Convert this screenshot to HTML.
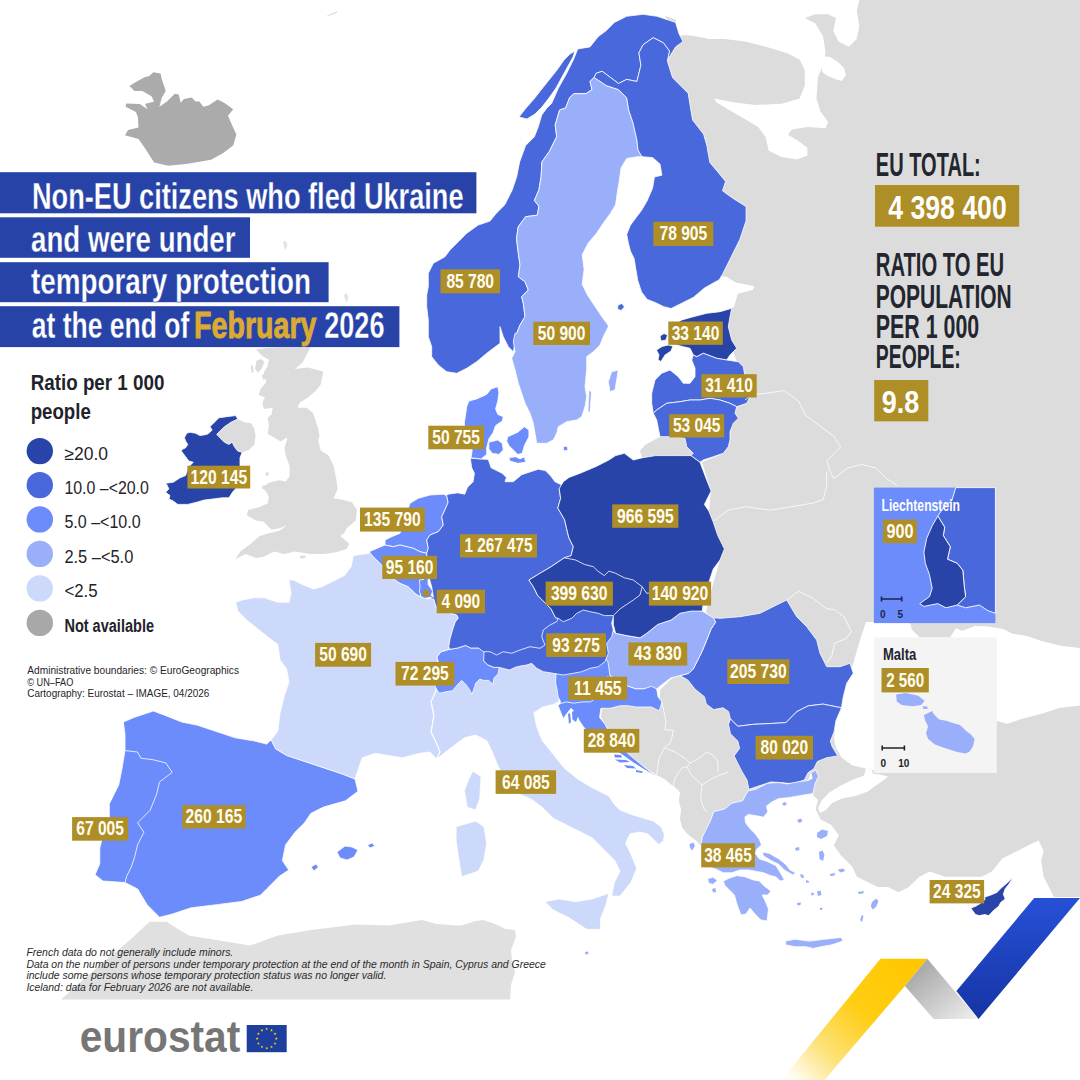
<!DOCTYPE html>
<html lang="en">
<head>
<meta charset="utf-8">
<title>Non-EU citizens who fled Ukraine and were under temporary protection at the end of February 2026</title>
<style>
html,body{margin:0;padding:0;background:#fff;}
body{width:1080px;height:1080px;overflow:hidden;}
svg{display:block;font-family:"Liberation Sans",Arial,sans-serif;}
.lb{font-weight:bold;font-size:20px;fill:#fffdf2;}
.tt{font-weight:bold;font-size:37.5px;fill:#fff;stroke:#2743a7;stroke-width:0.3px;}
.rp{font-weight:bold;font-size:32.5px;fill:#23262f;}
.lg{font-size:18px;fill:#1f232b;}
.fn{font-style:italic;font-size:11px;fill:#2a2a2a;}
.at{font-size:10.5px;fill:#1f232b;}
</style>
</head>
<body>
<svg width="1080" height="1080" viewBox="0 0 1080 1080">
<defs>
<linearGradient id="gY" gradientUnits="userSpaceOnUse" x1="915" y1="965" x2="800" y2="1085">
<stop offset="0" stop-color="#ffc700"/><stop offset="0.42" stop-color="#ffcd12"/><stop offset="0.75" stop-color="#fde27a"/><stop offset="1" stop-color="#fffdf5"/>
</linearGradient>
<linearGradient id="gG" x1="0" y1="0" x2="1" y2="1">
<stop offset="0" stop-color="#9a9a9a"/><stop offset="1" stop-color="#f0f0f0"/>
</linearGradient>
<linearGradient id="gB" x1="0" y1="0" x2="0" y2="1">
<stop offset="0" stop-color="#2650d6"/><stop offset="1" stop-color="#1634a4"/>
</linearGradient>
</defs>
<rect width="1080" height="1080" fill="#fff"/>
<g id="map">
<polygon points="664.0,0.0 1080.0,0.0 1080.0,897.0 1054.0,897.0 1048.9,887.0 1043.7,876.7 1041.1,861.1 1043.7,850.7 1038.5,840.4 1028.1,845.6 1017.8,850.7 1002.2,858.5 991.9,871.5 981.5,876.7 960.7,876.7 945.2,876.7 929.6,871.5 919.3,876.7 908.9,887.0 898.5,892.2 888.1,887.0 877.8,887.0 867.4,881.9 857.0,876.7 851.9,866.3 841.5,855.9 833.7,845.6 838.9,835.2 831.1,824.8 820.7,819.6 815.6,809.3 818.0,800.0 812.9,795.0 815.0,783.9 818.5,776.2 815.7,770.0 810.8,772.8 808.1,780.4 798.3,781.8 787.2,783.9 778.9,782.5 767.8,783.2 755.3,789.4 748.3,790.8 745.6,795.0 742.8,800.6 731.7,803.3 724.7,808.9 713.6,811.7 710.8,820.0 706.7,828.3 702.5,836.7 701.1,843.6 700.0,845.6 696.7,841.1 692.2,837.8 686.7,833.3 682.2,827.8 680.0,818.9 681.1,810.0 678.9,801.1 680.0,792.2 675.6,787.8 671.1,784.4 664.4,778.9 655.6,774.4 645.0,767.5 636.0,761.0 628.0,754.5 620.0,746.0 612.0,737.0 606.0,727.0 601.0,717.0 602.0,709.0 620.0,706.0 650.0,705.0 660.0,700.0 660.0,690.0 670.0,680.0 690.0,665.0 705.0,640.0 712.0,622.0 706.0,612.0 711.0,591.0 720.0,560.0 724.0,549.0 717.0,535.0 709.0,511.0 711.0,491.0 702.0,462.0 720.0,455.0 728.0,444.0 732.0,425.0 736.0,408.0 745.0,400.0 744.0,375.0 736.0,360.0 733.0,350.0 730.0,340.0 727.0,326.7 731.7,308.3 734.1,306.7 737.8,293.7 752.6,290.0 754.4,286.3 735.9,282.6 726.7,277.0 721.0,276.0 730.4,258.5 739.8,239.6 746.1,220.7 746.1,206.6 733.5,198.7 722.5,190.8 725.6,181.4 717.8,171.9 709.9,162.5 706.8,145.2 703.6,134.2 692.6,120.0 690.7,108.9 688.2,93.3 672.6,77.8 667.4,61.1 669.4,57.0 675.6,46.9 681.7,40.7 676.0,36.0 672.0,25.0 664.0,15.0" fill="#dcdcdc"/>
<polygon points="640.0,0.0 859.3,0.0 856.7,10.4 859.3,25.9 856.7,38.9 848.9,46.7 838.5,41.5 833.3,31.1 835.9,18.1 828.2,14.3 815.2,14.3 804.8,18.1 815.2,23.3 823.0,36.3 825.6,51.9 823.0,64.8 817.8,77.8 816.5,98.5 820.4,111.5 828.2,121.9 825.6,128.3 807.4,127.0 791.9,129.6 788.0,134.8 797.0,140.0 807.4,147.8 807.4,155.6 797.0,159.5 781.5,156.9 768.5,150.4 765.9,137.4 758.2,127.0 745.2,119.3 729.6,110.2 716.7,102.4 714.1,98.5 734.8,102.4 755.6,105.0 781.5,103.7 799.6,98.5 804.8,85.6 804.8,70.0 799.6,59.6 786.7,53.1 765.9,46.7 745.2,41.5 724.5,38.9 708.9,38.9 695.9,36.3 685.6,35.0 678.0,36.0 676.0,28.0 676.0,20.0 660.0,14.0" fill="#fff"/>
<polygon points="846.7,683.3 853.3,663.3 860.0,640.0 866.0,622.0 910.0,623.0 912.0,630.0 920.0,637.5 950.0,637.5 956.0,628.0 962.0,631.0 975.0,626.0 988.5,626.5 1003.0,628.9 1012.6,633.7 1027.0,636.1 1041.5,640.9 1051.1,643.3 1060.7,645.7 1080.0,648.1 1080.0,705.6 1059.3,708.1 1043.7,713.3 1023.0,718.5 1007.4,723.7 997.0,721.1 980.0,726.0 960.0,735.0 940.0,745.0 920.0,755.0 900.0,762.0 875.2,770.4 862.2,767.8 851.9,765.2 841.5,757.4 836.0,748.0 834.0,738.0 836.0,722.0 841.0,705.0" fill="#fff"/>
<polygon points="866.0,768.0 872.0,770.0 873.0,774.0 880.0,774.5 888.0,776.5 884.0,780.0 875.0,786.0 868.0,791.5 855.0,796.0 842.0,798.5 832.0,803.0 826.0,810.0 820.0,813.0 818.0,808.0 822.0,800.0 830.0,792.0 840.0,786.0 852.0,780.0 864.0,775.5" fill="#fff"/>
<polygon points="822.0,56.0 830.0,57.0 838.0,62.0 844.0,68.0 846.0,75.0 842.0,81.0 835.0,79.0 828.0,76.0 822.0,72.0" fill="#fff"/>
<polygon points="61.0,999.4 100.0,965.0 130.0,940.0 146.0,925.0 150.0,921.7 166.7,921.7 178.0,929.0 188.9,935.6 222.2,941.1 250.0,945.6 277.8,935.6 311.1,930.0 355.6,924.4 388.9,925.6 422.2,920.0 436.7,923.9 453.3,925.3 461.1,925.6 475.6,921.1 483.3,920.0 495.0,924.0 505.6,928.9 515.0,930.0 516.0,937.0 511.0,950.0 512.0,962.0 515.0,972.0 511.0,985.0 510.0,999.4" fill="#e0e0e0"/>
<polygon points="255.9,349.4 266.3,348.1 279.3,347.5 310.4,347.5 302.6,362.4 294.8,368.9 307.8,367.6 323.3,371.5 320.7,384.4 315.6,390.9 307.8,397.4 300.0,402.6 297.4,407.8 306.5,407.8 313.0,413.0 315.6,420.7 318.2,428.5 319.5,436.0 318.2,440.0 320.7,450.4 328.5,455.6 333.7,465.9 336.3,478.9 337.6,489.3 333.7,498.3 341.5,499.6 351.9,502.2 357.0,510.0 355.7,520.4 346.7,528.2 344.1,533.3 340.2,535.9 349.3,543.7 346.7,548.9 333.7,552.8 323.3,554.1 310.4,554.1 302.6,552.8 294.8,551.5 284.4,554.1 274.1,551.5 263.7,556.7 255.9,558.0 245.6,554.1 235.2,559.3 240.4,551.5 250.7,543.7 259.8,535.9 268.9,533.3 279.3,530.7 287.0,525.6 279.3,528.2 271.5,529.4 263.7,521.7 255.9,520.4 246.9,515.2 248.1,510.0 258.5,507.4 267.6,503.5 268.9,497.0 266.3,491.9 262.4,488.0 268.9,482.8 279.3,480.2 285.7,481.5 289.6,476.3 289.6,465.9 285.7,455.6 284.4,447.8 287.0,440.0 287.0,437.6 280.6,441.5 274.1,437.6 267.6,433.7 268.9,425.9 267.6,418.2 271.5,414.3 272.8,407.8 263.7,409.1 262.4,402.6 265.0,397.4 258.5,394.8 261.1,388.3 266.3,381.9 263.7,372.8 267.6,366.3 268.9,359.8 262.4,355.9" fill="#dcdcdc"/>
<polygon points="216.7,434.4 220.0,431.1 224.4,426.7 231.1,422.2 237.8,418.9 244.4,422.2 251.1,423.3 254.4,428.9 255.6,435.6 254.4,444.4 248.9,450.0 242.2,452.2 237.8,451.1 234.4,446.7 232.2,442.2 228.9,444.4 224.4,442.2 220.0,437.8" fill="#dcdcdc"/>
<polygon points="283.0,242.0 285.5,240.5 287.5,245.0 285.5,250.0 284.0,247.0" fill="#e4e4e4"/>
<polygon points="344.0,295.0 346.5,293.0 348.5,297.0 347.0,302.5 345.0,299.5" fill="#e4e4e4"/>
<polygon points="327.0,15.5 332.0,13.3 336.5,11.3 338.0,12.5 333.0,14.6 327.5,16.5" fill="#e4e4e4"/>
<polygon points="256.6,360.5 261.0,359.0 264.4,362.0 262.0,368.0 258.0,372.8 255.0,369.0" fill="#dcdcdc"/>
<polygon points="251.0,366.0 253.0,365.0 253.5,372.0 251.5,373.0" fill="#dcdcdc"/>
<polygon points="262.0,375.0 266.0,373.0 267.0,378.0 263.0,380.0" fill="#dcdcdc"/>
<polygon points="262.0,392.0 266.0,391.0 266.5,394.0 262.5,395.0" fill="#dcdcdc"/>
<polygon points="263.0,402.0 266.0,401.0 266.5,405.0 263.5,406.0" fill="#dcdcdc"/>
<polygon points="265.6,473.0 268.0,471.5 269.0,475.0 266.0,476.0" fill="#dcdcdc"/>
<polygon points="262.0,486.0 266.0,485.0 266.0,488.5 262.5,489.0" fill="#dcdcdc"/>
<polygon points="300.0,556.0 306.0,555.5 305.0,558.0 300.5,558.5" fill="#dcdcdc"/>
<polygon points="129.4,85.9 135.9,82.0 145.0,76.9 148.9,76.2 153.4,72.3 160.6,73.6 161.9,79.4 165.7,91.1 161.9,97.6 159.3,106.7 167.0,101.5 174.8,93.7 178.7,94.4 180.7,102.8 183.9,98.9 191.7,97.6 195.6,101.5 199.4,101.5 203.3,106.7 208.5,105.4 217.6,99.5 224.1,102.8 233.2,109.3 228.0,115.7 231.9,124.8 236.4,134.5 233.2,145.6 222.8,153.3 211.1,159.8 187.8,163.7 168.3,165.7 154.1,162.4 145.0,148.2 138.5,139.1 124.9,135.2 128.1,130.0 138.5,127.4 137.9,117.0 135.9,111.9 125.6,106.7 126.2,103.4 139.8,104.1 147.6,109.3 145.0,104.1 154.1,101.5 151.5,96.3 142.4,91.1 134.6,91.1" fill="#ababab"/>
<polygon points="645.0,445.0 660.0,436.7 673.3,436.7 685.0,438.3 686.7,446.7 693.3,453.3 700.0,462.2 691.1,455.6 673.3,455.6 655.6,455.6 642.2,457.8 640.0,451.0" fill="#dcdcdc"/>
<polygon points="368.9,553.3 353.3,555.6 351.1,566.7 344.4,575.6 331.1,582.2 322.2,586.7 313.3,588.9 302.2,584.4 293.3,580.0 288.9,580.0 291.1,593.3 288.9,602.2 277.8,602.2 264.4,597.8 253.3,597.8 242.2,600.0 235.6,602.2 237.8,611.1 246.7,620.0 257.8,628.9 268.9,637.8 277.8,644.4 280.0,660.0 286.7,668.9 288.9,682.2 284.4,695.6 280.0,713.3 277.8,731.1 271.1,740.0 275.6,748.9 286.7,755.6 300.0,760.0 313.3,764.4 326.7,768.9 340.0,773.3 355.0,779.0 358.0,770.0 362.2,757.8 375.6,753.3 388.9,755.6 402.2,757.8 420.0,753.3 430.0,752.0 436.7,759.0 440.0,752.0 436.7,743.3 431.1,732.2 433.9,715.6 431.1,701.7 436.7,690.0 440.0,686.0 437.0,657.0 440.9,651.9 450.0,649.3 448.7,646.7 450.0,638.9 452.6,629.8 455.2,622.0 458.3,618.0 456.7,615.0 446.7,611.7 436.7,608.3 435.0,603.3 433.3,596.7 428.0,599.0 420.0,596.7 415.0,593.3 408.3,586.7 400.0,583.3 395.0,580.0 386.7,570.0 380.0,563.3 373.3,556.7 369.2,551.7" fill="#cdd9fb" stroke="#fff" stroke-width="0.8" stroke-linejoin="round"/>
<polygon points="472.8,771.1 481.1,776.7 479.7,798.9 475.6,810.0 467.2,807.2 464.4,790.6 468.6,779.4" fill="#cdd9fb" stroke="#fff" stroke-width="0.8" stroke-linejoin="round"/>
<polygon points="436.7,759.0 453.3,746.1 464.4,737.8 475.6,735.0 486.7,740.6 492.2,751.7 497.8,765.6 503.3,776.7 517.2,793.3 531.1,798.9 542.2,807.2 553.3,818.3 570.0,826.7 581.1,832.2 592.2,837.8 603.3,848.9 614.4,860.0 620.0,871.1 614.4,882.2 611.7,896.1 620.0,896.1 631.1,882.2 636.7,868.3 631.1,854.4 625.6,843.3 630.0,834.0 640.0,832.0 648.0,834.0 654.0,840.0 658.9,844.4 663.3,841.1 664.4,834.4 661.1,826.7 653.3,821.1 642.2,817.8 631.1,814.4 620.0,810.0 614.4,804.4 608.9,796.1 592.2,787.8 578.3,779.4 564.4,768.3 553.3,754.4 542.2,740.6 536.7,726.7 533.9,712.8 542.2,707.2 553.3,704.4 558.9,701.7 560.0,690.0 557.0,670.0 540.0,662.0 520.0,664.0 500.0,666.0 480.0,675.0 460.0,680.0 440.0,686.0 436.7,690.0 431.1,701.7 433.9,715.6 431.1,732.2 436.7,743.3 440.0,752.0" fill="#cdd9fb" stroke="#fff" stroke-width="0.8" stroke-linejoin="round"/>
<polygon points="456.1,826.7 475.6,821.1 483.9,826.7 486.7,843.3 483.9,860.0 478.3,871.1 461.7,876.7 458.9,860.0 456.1,840.6" fill="#cdd9fb" stroke="#fff" stroke-width="0.8" stroke-linejoin="round"/>
<polygon points="545.0,901.7 558.9,898.9 575.6,901.7 592.2,898.9 608.9,893.3 606.1,904.4 600.6,918.3 600.6,929.4 586.7,929.4 570.0,918.3 553.3,910.0" fill="#cdd9fb" stroke="#fff" stroke-width="0.8" stroke-linejoin="round"/>
<polygon points="123.4,722.0 134.5,717.3 153.4,711.0 165.9,715.7 181.7,722.0 197.4,725.2 216.3,731.5 235.2,737.8 254.1,740.9 266.7,744.1 271.1,740.0 275.6,748.9 286.7,755.6 300.0,760.0 313.3,764.4 326.7,768.9 340.0,773.3 355.0,779.0 358.0,791.3 345.4,800.8 323.4,807.1 310.8,813.4 304.5,822.8 295.0,832.2 285.6,844.8 282.4,860.6 288.7,870.0 279.3,876.3 266.7,888.9 260.4,895.2 241.5,901.5 216.3,904.7 191.1,907.8 172.2,914.1 159.6,917.3 147.1,904.7 137.6,888.9 125.0,882.6 103.0,881.0 95.1,874.7 99.8,863.7 99.8,848.0 103.0,835.4 109.3,819.6 109.3,803.9 118.7,785.0 121.9,769.3 125.0,750.4 125.0,734.6" fill="#6b8cfa" stroke="#fff" stroke-width="0.8" stroke-linejoin="round"/>
<polygon points="337.0,852.0 345.0,846.0 352.0,847.0 358.0,850.0 354.0,857.0 347.0,860.0 340.0,858.0" fill="#6b8cfa" stroke="#fff" stroke-width="0.8" stroke-linejoin="round"/>
<polygon points="367.5,845.0 372.0,843.0 375.0,846.0 370.0,848.0" fill="#6b8cfa" stroke="#fff" stroke-width="0.8" stroke-linejoin="round"/>
<polygon points="311.0,867.0 316.0,864.0 318.5,867.0 314.0,871.0" fill="#6b8cfa" stroke="#fff" stroke-width="0.8" stroke-linejoin="round"/>
<polygon points="713.3,617.8 720.0,618.3 740.0,616.7 760.0,613.3 780.0,603.3 786.7,600.0 796.7,616.7 806.7,626.7 816.7,640.0 820.0,653.3 826.7,666.7 840.0,666.7 850.0,663.3 853.3,673.3 846.7,683.3 843.3,696.7 841.5,707.8 823.0,704.1 808.1,705.9 797.0,711.5 785.9,722.6 771.1,723.5 752.6,724.4 737.8,726.3 730.4,718.9 728.5,711.5 723.0,707.8 713.7,709.6 706.3,704.1 704.4,696.7 695.2,689.3 687.8,680.0 680.0,675.6 688.9,673.3 693.3,668.9 697.8,660.0 702.2,651.1 706.7,640.0 711.1,628.9 715.6,622.2" fill="#4868dc" stroke="#fff" stroke-width="0.8" stroke-linejoin="round"/>
<polygon points="615.6,633.3 626.7,635.6 640.0,637.8 646.7,633.3 657.8,624.4 671.1,620.0 680.0,613.3 688.9,608.9 702.2,611.1 713.3,617.8 715.6,622.2 711.1,628.9 706.7,640.0 702.2,651.1 697.8,660.0 693.3,668.9 688.9,673.3 680.0,675.6 671.1,677.8 662.2,684.4 656.7,688.9 643.7,688.9 635.9,688.9 628.1,686.3 617.8,679.8 610.0,675.9 604.0,668.0 602.0,656.0 602.0,645.0 605.0,635.0 610.0,628.0" fill="#9aaffa" stroke="#fff" stroke-width="0.8" stroke-linejoin="round"/>
<polygon points="555.6,682.4 556.0,674.0 565.0,669.0 578.9,667.0 591.9,664.0 600.9,660.0 605.0,657.0 608.0,662.0 610.0,675.9 617.8,679.8 628.1,686.3 635.9,688.9 643.7,688.9 651.5,686.3 656.7,688.9 658.0,696.7 661.9,701.9 659.3,710.9 651.5,707.0 643.7,707.0 635.9,707.0 628.1,705.7 620.4,705.7 610.0,708.3 600.9,708.3 599.6,717.4 604.8,723.9 607.4,729.1 612.0,735.0 618.0,742.0 624.3,750.0 628.1,753.7 635.9,760.2 643.7,766.7 654.1,774.5 655.6,776.0 643.7,769.3 633.3,762.8 624.3,756.3 612.0,748.0 600.0,740.0 590.0,733.0 584.1,727.8 578.9,720.0 576.3,713.5 571.1,708.3 565.9,714.8 563.3,718.7 560.7,712.2 558.1,705.7 560.7,701.9 558.1,696.7 556.9,688.9" fill="#6b8cfa" stroke="#fff" stroke-width="0.8" stroke-linejoin="round"/>
<polygon points="450.0,649.3 457.8,648.0 465.6,645.4 470.7,648.0 478.5,648.0 483.7,650.6 486.3,654.4 483.7,660.9 487.6,664.8 494.1,667.4 499.3,667.4 498.0,673.9 494.1,677.8 492.8,684.3 488.9,680.4 483.7,680.4 479.8,679.1 475.9,683.0 473.3,690.7 472.0,694.6 469.4,689.4 465.6,684.3 461.7,680.4 457.8,684.3 452.6,690.7 444.8,692.0 439.6,693.3 435.7,688.2 434.4,683.0 438.3,672.6 438.3,662.2 437.0,657.0 440.9,651.9" fill="#6b8cfa" stroke="#fff" stroke-width="0.8" stroke-linejoin="round"/>
<polygon points="484.0,651.0 494.0,649.0 499.3,648.0 507.0,649.0 514.8,648.0 520.0,646.0 530.0,643.0 540.0,644.0 542.0,641.0 538.5,636.7 540.0,629.0 547.0,622.0 554.0,618.0 558.0,614.0 563.3,615.0 571.7,612.0 576.7,608.0 583.3,606.0 590.0,607.0 598.3,609.0 606.7,609.0 615.0,611.0 611.7,623.3 613.3,630.0 611.7,636.7 606.7,643.3 608.3,653.3 605.0,661.7 598.3,666.7 590.0,668.3 581.7,671.7 573.3,673.3 563.3,675.0 553.3,673.3 543.3,671.7 536.7,668.3 531.7,663.3 526.7,665.0 520.0,666.1 514.8,667.4 509.6,670.0 504.4,668.7 499.3,667.4 494.1,667.4 487.6,664.8 483.7,660.9" fill="#4868dc" stroke="#fff" stroke-width="0.8" stroke-linejoin="round"/>
<polygon points="410.0,503.3 418.3,498.3 430.0,495.0 443.3,494.2 446.7,495.6 448.1,502.5 443.9,512.2 441.7,516.7 443.3,525.0 438.3,531.7 430.0,535.0 426.7,540.0 428.3,548.3 426.7,553.3 420.0,551.7 413.3,548.3 406.7,546.7 400.0,545.0 393.3,546.7 385.0,545.0 385.0,540.0 391.7,536.7 400.0,533.3 403.3,525.0 406.7,513.3" fill="#6b8cfa" stroke="#fff" stroke-width="0.8" stroke-linejoin="round"/>
<polygon points="385.0,545.0 393.3,546.7 400.0,545.0 406.7,546.7 413.3,548.3 420.0,551.7 426.7,553.3 428.3,568.3 428.3,575.0 423.3,580.0 421.7,586.7 420.0,596.7 415.0,593.3 408.3,586.7 400.0,583.3 395.0,580.0 386.7,570.0 380.0,563.3 373.3,556.7 369.2,551.7" fill="#6b8cfa" stroke="#fff" stroke-width="0.8" stroke-linejoin="round"/>
<polygon points="419.4,580.0 423.3,579.5 428.3,575.0 428.0,584.4 432.8,591.1 431.1,595.6 428.9,597.8 424.4,598.3 421.1,596.7 419.4,591.1 420.0,586.7" fill="#6b8cfa" stroke="#fff" stroke-width="0.8" stroke-linejoin="round"/>
<polygon points="446.7,495.6 448.1,494.2 457.8,492.8 464.7,494.2 467.5,487.2 473.1,481.7 474.4,473.3 471.7,467.8 470.3,458.1 481.0,459.0 488.3,459.4 491.1,467.8 502.2,473.3 506.4,477.5 505.0,481.7 513.3,481.7 521.7,474.7 530.0,471.9 538.3,469.2 545.3,470.6 550.8,476.1 555.0,481.7 560.6,484.4 563.3,487.2 559.2,488.6 560.6,498.3 557.8,508.1 561.9,515.0 564.7,520.0 566.7,528.9 568.9,537.8 573.3,546.7 571.1,555.6 564.4,557.8 551.1,566.7 540.0,573.3 528.9,580.0 533.3,586.7 537.8,595.6 544.4,602.2 551.1,608.9 555.6,617.8 558.3,618.3 556.7,621.7 550.0,625.0 543.3,630.0 541.7,636.7 545.0,645.0 540.0,648.3 530.0,646.7 520.0,650.0 511.7,653.3 503.3,651.7 496.7,655.0 490.0,651.7 483.3,651.7 478.5,648.0 470.7,648.0 465.6,645.4 457.8,648.0 450.0,649.3 448.7,646.7 450.0,638.9 452.6,629.8 455.2,622.0 458.3,618.0 456.7,615.0 446.7,611.7 436.7,608.3 435.0,603.3 433.3,596.7 431.7,586.7 428.3,575.0 428.3,568.3 426.7,553.3 428.3,548.3 426.7,540.0 430.0,535.0 438.3,531.7 443.3,525.0 441.7,516.7 443.9,512.2 448.1,502.5" fill="#4868dc" stroke="#fff" stroke-width="0.8" stroke-linejoin="round"/>
<polygon points="563.3,481.7 568.9,477.5 580.0,473.3 595.6,466.7 608.9,460.0 615.6,455.6 624.4,453.3 633.3,460.0 642.2,457.8 655.6,455.6 673.3,455.6 691.1,455.6 700.0,462.2 706.7,480.0 711.1,491.1 704.4,504.4 708.9,511.1 713.3,522.2 717.8,535.6 724.4,548.9 720.0,560.0 713.3,568.9 708.9,582.2 711.1,591.1 704.4,595.6 702.2,611.1 691.1,611.1 680.0,613.3 671.1,620.0 657.8,624.4 646.7,633.3 640.0,637.8 626.7,635.6 615.6,633.3 613.3,624.4 613.3,615.6 604.4,615.6 598.3,613.3 590.0,611.7 583.3,610.0 576.7,613.3 571.7,618.3 563.3,621.7 558.3,618.3 555.6,617.8 551.1,608.9 544.4,602.2 537.8,595.6 533.3,586.7 528.9,580.0 540.0,573.3 551.1,566.7 564.4,557.8 571.1,555.6 573.3,546.7 568.9,537.8 566.7,528.9 564.7,520.0 561.9,515.0 557.8,508.1 560.6,498.3 559.2,488.6" fill="#2844a9" stroke="#fff" stroke-width="0.8" stroke-linejoin="round"/>
<polygon points="730.4,718.9 737.8,726.3 752.6,724.4 771.1,723.5 785.9,722.6 797.0,711.5 808.1,705.9 823.0,704.1 841.5,707.8 835.9,720.7 834.1,731.9 830.4,741.1 832.2,746.7 837.8,755.9 826.7,757.8 817.4,761.5 813.7,768.9 808.1,772.6 804.4,780.0 793.3,783.7 782.2,782.8 771.1,781.9 760.0,785.6 748.9,789.3 747.0,780.0 741.5,770.7 737.8,763.3 734.1,755.9 739.6,748.5 737.8,741.1 730.4,733.7 728.5,724.4" fill="#4868dc" stroke="#fff" stroke-width="0.8" stroke-linejoin="round"/>
<polygon points="748.3,790.8 755.3,789.4 767.8,783.2 778.9,782.5 787.2,783.9 798.3,781.8 808.1,780.4 812.2,778.3 810.8,772.8 815.7,770.0 818.5,776.2 815.0,783.9 812.9,793.6 803.9,795.0 795.6,796.4 787.2,797.8 778.9,798.5 771.9,801.9 766.4,806.1 767.8,811.7 763.6,817.2 756.7,815.8 748.3,814.4 744.9,817.2 745.6,822.8 749.7,828.3 755.3,833.9 759.4,839.4 761.5,845.0 756.7,849.2 755.3,853.3 759.4,858.9 767.8,861.7 776.1,865.8 780.3,872.8 784.4,879.7 780.3,881.1 776.1,876.9 770.6,875.6 763.6,872.8 756.7,871.4 748.3,870.0 740.0,870.0 731.7,872.8 723.3,872.8 717.8,870.0 710.8,867.2 706.7,861.7 703.9,856.1 702.5,847.8 701.1,843.6 702.5,836.7 706.7,828.3 710.8,820.0 713.6,811.7 724.7,808.9 731.7,803.3 742.8,800.6 745.6,795.0" fill="#9aaffa" stroke="#fff" stroke-width="0.8" stroke-linejoin="round"/>
<polygon points="762.2,851.9 769.2,853.3 778.9,858.9 785.8,864.4 790.0,870.0 795.6,872.8 792.8,874.9 784.4,870.0 778.9,864.4 770.6,860.3 763.6,856.1" fill="#9aaffa" stroke="#fff" stroke-width="0.8" stroke-linejoin="round"/>
<polygon points="723.3,881.1 728.9,878.3 737.2,875.6 745.6,876.9 752.5,879.7 759.4,881.1 765.0,886.7 771.0,891.0 767.8,895.0 762.2,895.0 765.0,900.6 768.5,909.0 767.0,921.0 761.0,920.0 755.0,914.0 750.0,908.0 746.0,914.0 741.0,915.0 737.2,905.0 734.4,895.0 728.9,889.4 724.7,885.3" fill="#9aaffa" stroke="#fff" stroke-width="0.8" stroke-linejoin="round"/>
<polygon points="785.6,941.1 794.8,939.3 809.6,941.1 824.4,939.3 841.1,937.4 843.0,941.1 831.9,944.8 820.7,946.7 813.3,948.5 805.9,946.7 794.8,946.7 785.6,944.8" fill="#9aaffa" stroke="#fff" stroke-width="0.8" stroke-linejoin="round"/>
<polygon points="970.9,908.1 975.6,906.3 980.2,903.5 984.8,899.8 984.8,897.0 990.4,895.2 996.9,892.4 1001.5,887.8 1007.0,883.1 1013.1,877.6 1008.9,884.1 1005.2,888.7 1003.3,894.3 1005.2,898.9 1000.6,902.6 998.7,906.3 994.1,910.0 990.4,913.7 988.5,915.6 984.8,914.6 979.3,915.6 975.6,914.6 972.8,910.9" fill="#2844a9" stroke="#fff" stroke-width="0.8" stroke-linejoin="round"/>
<polygon points="675.6,22.4 657.2,16.3 643.0,14.3 626.7,16.3 614.4,22.4 606.3,30.6 598.1,36.7 590.0,46.9 577.8,48.9 573.3,60.0 566.7,73.3 558.3,88.3 551.7,103.3 546.7,108.3 541.7,115.0 538.3,126.7 534.4,136.7 525.6,145.6 519.6,161.9 516.7,176.7 512.2,190.0 504.8,204.8 495.9,213.7 490.0,221.1 478.3,225.0 466.7,233.3 458.3,241.7 450.0,250.0 445.0,256.7 433.3,263.3 428.3,273.3 428.3,286.7 426.7,295.0 426.7,306.7 428.3,320.0 428.3,336.7 431.7,346.7 431.7,356.7 438.3,365.0 446.7,371.7 456.7,373.3 466.7,368.3 476.7,361.7 486.7,353.3 493.3,348.3 500.0,343.3 500.0,326.7 503.3,336.7 508.3,346.7 513.3,351.7 515.0,343.3 516.7,333.3 520.0,325.0 525.0,316.7 523.3,303.3 521.7,296.7 528.3,290.0 525.0,281.7 518.3,276.7 520.0,265.0 518.3,253.3 516.7,240.0 516.7,237.4 518.1,227.0 525.6,216.7 537.4,215.2 538.9,206.3 534.4,200.4 538.9,190.0 541.1,176.7 541.9,161.9 549.3,151.5 556.7,136.7 555.2,124.8 559.6,110.0 565.6,108.0 569.6,97.8 573.7,93.7 585.9,93.7 592.0,89.6 590.0,81.5 594.1,77.4 596.1,73.3 602.2,71.3 610.4,77.4 618.5,83.5 626.7,79.4 636.9,81.5 640.9,65.2 638.9,53.0 643.0,44.8 653.2,37.7 663.3,42.8 669.4,50.9 667.4,61.1 669.4,57.0 675.6,46.9 683.0,41.5 679.0,33.7" fill="#4868dc" stroke="#fff" stroke-width="0.8" stroke-linejoin="round"/>
<polygon points="519.0,117.0 526.0,108.0 534.0,99.0 541.0,90.0 549.0,80.0 557.0,70.0 564.0,60.0 570.0,54.0 575.0,51.0 573.0,57.0 568.0,66.0 562.0,77.0 556.0,88.0 549.0,98.0 542.0,107.0 535.0,114.0 527.0,119.0" fill="#4868dc" stroke="#fff" stroke-width="0.8" stroke-linejoin="round"/>
<polygon points="594.1,77.4 606.3,85.6 618.5,89.6 626.7,97.8 628.7,110.0 632.8,122.2 636.9,140.0 638.0,150.0 642.0,156.7 637.8,156.7 626.7,158.5 621.1,167.8 619.3,180.7 617.4,191.9 615.6,204.8 610.0,214.1 604.4,221.5 597.0,232.6 587.8,243.7 582.2,254.8 584.1,269.6 582.2,284.4 587.8,295.6 595.2,306.7 602.6,317.8 608.1,325.2 608.3,326.7 603.3,336.7 600.0,345.0 593.3,351.7 586.7,356.7 586.7,370.0 585.0,386.7 586.7,396.7 585.0,406.7 581.7,416.7 576.7,420.0 566.7,421.7 558.3,426.7 556.7,433.3 553.3,440.0 546.7,443.3 536.7,443.3 535.0,433.3 533.3,423.3 530.0,413.3 525.0,403.3 521.7,393.3 518.3,383.3 515.0,370.0 511.7,358.3 515.0,351.7 513.3,341.7 515.0,333.3 516.7,333.3 520.0,325.0 525.0,316.7 523.3,303.3 521.7,296.7 528.3,290.0 525.0,281.7 518.3,276.7 520.0,265.0 518.3,253.3 516.7,240.0 516.7,237.4 518.1,227.0 525.6,216.7 537.4,215.2 538.9,206.3 534.4,200.4 538.9,190.0 541.1,176.7 541.9,161.9 549.3,151.5 556.7,136.7 555.2,124.8 559.6,110.0 565.6,108.0 569.6,97.8 573.7,93.7 585.9,93.7 592.0,89.6 590.0,81.5" fill="#9aaffa" stroke="#fff" stroke-width="0.8" stroke-linejoin="round"/>
<polygon points="611.7,371.7 618.3,370.0 615.0,390.0 610.0,391.7 608.3,381.7" fill="#9aaffa" stroke="#fff" stroke-width="0.8" stroke-linejoin="round"/>
<polygon points="589.0,390.0 591.5,392.0 590.0,413.0 588.0,411.0" fill="#9aaffa" stroke="#fff" stroke-width="0.8" stroke-linejoin="round"/>
<polygon points="594.1,77.4 596.1,73.3 602.2,71.3 610.4,77.4 618.5,83.5 626.7,79.4 636.9,81.5 640.9,65.2 638.9,53.0 643.0,44.8 653.2,37.7 663.3,42.8 669.4,50.9 667.4,61.1 672.6,77.8 688.2,93.3 690.7,108.9 692.6,120.0 703.6,134.2 706.8,145.2 709.9,162.5 717.8,171.9 725.6,181.4 722.5,190.8 733.5,198.7 746.1,206.6 746.1,220.7 739.8,239.6 730.4,258.5 722.5,274.3 719.0,280.0 717.4,280.7 704.4,288.1 693.3,297.4 682.2,303.0 671.1,308.5 663.7,306.7 656.3,303.0 647.0,299.3 641.5,291.9 637.8,280.7 635.9,269.6 634.1,258.5 630.4,251.1 628.5,243.7 626.7,234.4 630.4,225.2 635.9,217.8 641.5,210.4 647.0,201.1 652.6,188.1 654.4,177.0 661.9,175.2 660.0,164.1 652.6,157.6 642.0,156.7 638.0,150.0 636.9,140.0 632.8,122.2 628.7,110.0 626.7,97.8 618.5,89.6 606.3,85.6" fill="#4868dc" stroke="#fff" stroke-width="0.8" stroke-linejoin="round"/>
<polygon points="618.0,305.0 622.0,303.5 624.5,307.0 621.0,310.5 617.5,309.0" fill="#4868dc" stroke="#fff" stroke-width="0.8" stroke-linejoin="round"/>
<polygon points="497.8,386.7 491.1,388.9 486.7,394.4 476.7,398.9 468.9,401.1 466.7,406.7 465.6,414.4 464.4,422.2 464.4,432.2 468.9,441.1 472.2,450.0 471.1,457.8 481.1,458.9 486.7,454.4 486.7,447.8 488.9,438.9 493.3,432.2 495.6,425.6 502.2,421.1 503.3,416.7 497.8,414.4 495.6,408.9 497.8,401.1 498.9,392.2" fill="#6b8cfa" stroke="#fff" stroke-width="0.8" stroke-linejoin="round"/>
<polygon points="488.9,442.2 497.8,440.0 502.2,443.3 503.3,450.0 498.9,454.4 492.2,453.3 488.9,448.9" fill="#6b8cfa" stroke="#fff" stroke-width="0.8" stroke-linejoin="round"/>
<polygon points="507.8,436.7 517.8,432.2 524.4,426.7 528.9,430.0 528.9,436.7 524.4,445.6 522.2,453.3 517.8,454.4 513.3,450.0 508.9,445.6 506.7,441.1" fill="#6b8cfa" stroke="#fff" stroke-width="0.8" stroke-linejoin="round"/>
<polygon points="508.9,457.8 515.6,456.7 520.0,458.9 524.4,456.7 525.6,462.2 517.8,463.3 510.0,461.1" fill="#6b8cfa" stroke="#fff" stroke-width="0.8" stroke-linejoin="round"/>
<polygon points="563.0,447.0 567.0,446.0 568.0,450.0 564.0,451.0" fill="#6b8cfa" stroke="#fff" stroke-width="0.8" stroke-linejoin="round"/>
<polygon points="681.7,320.0 693.3,316.7 706.7,313.3 720.0,311.7 731.7,308.3 730.0,316.7 728.3,326.7 731.7,340.0 736.7,348.3 730.0,355.0 726.7,360.0 716.7,358.3 703.3,353.3 696.7,356.7 693.3,355.0 690.0,348.3 683.3,346.7 676.7,345.0 671.7,340.0 668.3,333.3 673.3,325.0" fill="#2844a9" stroke="#fff" stroke-width="0.8" stroke-linejoin="round"/>
<polygon points="656.5,350.0 662.0,346.5 668.0,345.0 673.0,346.0 671.0,351.0 665.0,355.0 661.0,361.5 658.0,360.0 659.0,355.0" fill="#2844a9" stroke="#fff" stroke-width="0.8" stroke-linejoin="round"/>
<polygon points="660.0,336.0 664.0,333.5 667.5,335.0 666.0,340.0 661.0,341.0" fill="#2844a9" stroke="#fff" stroke-width="0.8" stroke-linejoin="round"/>
<polygon points="726.7,360.0 738.3,361.7 743.3,366.7 745.0,376.7 746.7,386.7 750.0,396.7 746.7,403.3 736.7,406.7 730.0,403.3 720.0,400.0 710.0,398.3 700.0,400.0 690.0,400.0 680.0,401.7 666.7,403.3 656.7,410.0 653.3,413.3 651.7,403.3 651.7,393.3 655.0,380.0 661.7,373.3 670.0,370.0 678.3,376.7 683.3,383.3 690.0,383.3 695.0,376.7 695.0,368.3 691.7,360.0 693.3,355.0 696.7,356.7 703.3,353.3 716.7,358.3" fill="#4868dc" stroke="#fff" stroke-width="0.8" stroke-linejoin="round"/>
<polygon points="736.7,406.7 735.0,413.3 738.3,418.3 733.3,423.3 730.0,431.7 730.0,440.0 728.3,446.7 723.3,453.3 713.3,456.7 703.3,460.0 700.0,462.2 691.1,455.6 693.3,453.3 686.7,446.7 685.0,438.3 673.3,436.7 660.0,436.7 658.3,428.3 656.7,420.0 653.3,413.3 656.7,410.0 666.7,403.3 680.0,401.7 690.0,400.0 700.0,400.0 710.0,398.3 720.0,400.0 730.0,403.3" fill="#4868dc" stroke="#fff" stroke-width="0.8" stroke-linejoin="round"/>
<polygon points="210.0,426.7 218.9,417.8 226.7,416.7 235.6,415.6 237.8,418.9 231.1,422.2 224.4,426.7 220.0,431.1 216.7,434.4 220.0,437.8 224.4,442.2 228.9,444.4 232.2,442.2 234.4,446.7 237.8,451.1 242.2,452.2 240.0,457.8 240.0,464.4 240.0,477.8 235.6,488.9 233.3,491.1 228.9,497.8 222.2,497.8 213.3,498.9 204.4,500.0 196.7,502.2 187.8,504.4 177.8,504.4 173.3,501.1 168.9,498.9 170.0,495.6 165.6,492.2 168.9,488.9 166.7,484.4 165.6,483.3 173.3,482.2 180.0,477.8 185.6,475.6 186.7,472.2 188.9,466.7 193.3,462.2 188.9,461.1 185.6,456.7 182.2,452.2 181.1,450.0 185.6,447.8 187.8,444.4 185.6,441.1 184.4,437.8 186.7,433.3 190.0,432.2 195.6,433.3 200.0,435.6 206.7,434.4 208.9,433.3 212.2,430.0" fill="#2844a9" stroke="#fff" stroke-width="0.8" stroke-linejoin="round"/>
<polygon points="572.0,712.0 576.0,709.5 578.5,715.0 576.0,722.0 572.5,719.5" fill="#6b8cfa"/>
<polygon points="568.0,714.0 570.0,713.0 571.0,722.0 569.0,724.0" fill="#6b8cfa"/>
<polygon points="581.0,719.0 585.0,721.0 588.0,725.0 585.0,725.5 581.0,722.0" fill="#6b8cfa"/>
<polygon points="614.0,754.5 621.0,755.0 622.0,757.5 615.0,757.5" fill="#6b8cfa"/>
<polygon points="615.0,759.5 626.0,760.0 630.0,762.0 620.0,762.5" fill="#6b8cfa"/>
<polygon points="624.0,765.0 633.0,766.0 636.0,768.5 627.0,768.0" fill="#6b8cfa"/>
<polygon points="636.0,770.0 643.0,771.5 642.0,773.0 636.0,772.0" fill="#6b8cfa"/>
<polygon points="817.0,833.0 822.0,829.5 828.0,831.0 827.0,836.0 821.0,839.0 817.0,837.0" fill="#9aaffa"/>
<polygon points="819.0,852.0 822.5,850.5 824.5,855.0 823.0,861.0 819.5,859.0" fill="#9aaffa"/>
<polygon points="838.0,869.5 843.0,868.5 845.5,871.0 840.0,872.5" fill="#9aaffa"/>
<polygon points="872.0,902.0 876.0,898.5 878.5,901.0 876.0,907.0 872.5,909.5 870.8,906.0" fill="#9aaffa"/>
<polygon points="797.0,820.0 801.0,818.5 802.5,821.5 799.0,823.0" fill="#9aaffa"/>
<polygon points="782.0,803.5 785.0,802.0 787.0,804.0 784.0,806.0" fill="#9aaffa"/>
<polygon points="708.0,879.0 713.0,877.5 717.0,880.5 713.0,884.0 709.0,883.0" fill="#9aaffa"/>
<polygon points="712.0,889.0 715.5,888.0 716.0,892.0 713.0,892.5" fill="#9aaffa"/>
<polygon points="689.5,844.0 693.5,842.5 695.0,846.0 692.0,850.5 690.0,848.0" fill="#9aaffa"/>
<polygon points="817.0,891.5 820.5,890.5 821.5,895.0 818.0,896.0" fill="#9aaffa"/>
<polygon points="800.0,874.0 803.5,875.0 804.0,878.0 801.0,877.5" fill="#9aaffa"/>
<polygon points="811.0,893.0 813.5,892.5 814.0,895.0 811.5,895.5" fill="#9aaffa"/>
<polygon points="806.0,880.0 809.0,881.0 808.5,883.0 806.0,882.5" fill="#9aaffa"/>
<polygon points="797.0,903.0 801.0,902.5 800.5,905.0 797.5,905.5" fill="#9aaffa"/>
<polygon points="820.0,908.0 822.5,907.5 822.0,910.0 820.0,910.0" fill="#9aaffa"/>
<polygon points="858.0,892.0 864.0,891.0 863.0,893.5 858.5,894.0" fill="#9aaffa"/>
<polygon points="860.0,920.0 862.0,915.0 863.5,916.0 862.0,922.0" fill="#9aaffa"/>
<polygon points="585.0,952.0 588.0,951.5 588.5,954.0 585.5,954.5" fill="#9aaffa"/>
<polygon points="830.0,874.0 835.0,873.0 834.5,875.5 830.0,876.0" fill="#9aaffa"/>
<polygon points="795.0,848.0 799.0,847.0 799.5,850.0 796.0,851.0" fill="#9aaffa"/>
<g><polyline points="436.7,687.8 431.1,701.7 433.9,715.6 431.1,732.2 436.7,743.3 440.0,752.0 436.7,759.0" fill="none" stroke="#fff" stroke-width="0.8" stroke-linejoin="round" stroke-opacity="1"/><polyline points="123.4,750.4 137.6,752.0 140.8,758.2 153.4,759.8 165.9,763.0 172.2,772.4 159.6,781.9 156.5,794.5 150.2,810.2 140.8,819.6 137.6,822.8 143.9,832.2 137.6,844.8 134.5,857.4 131.3,866.9 126.6,876.3 125.0,882.6" fill="none" stroke="#fff" stroke-width="0.8" stroke-linejoin="round" stroke-opacity="1"/><polyline points="564.4,557.8 575.6,560.0 584.4,564.4 593.3,566.7 597.8,571.1 604.4,575.6 608.9,571.1 615.6,573.3 624.4,577.8 633.3,580.0 642.2,586.7 646.7,593.3 660.0,592.0 680.0,588.0 700.0,590.0 711.1,591.1" fill="none" stroke="#fff" stroke-width="0.8" stroke-linejoin="round" stroke-opacity="1"/><polyline points="642.2,586.7 640.0,595.0 633.3,600.0 620.0,608.9 613.3,615.6" fill="none" stroke="#fff" stroke-width="0.8" stroke-linejoin="round" stroke-opacity="1"/><polyline points="558.1,704.4 566.0,701.9 573.7,703.2 582.8,701.9 590.6,701.9 600.0,695.0 605.0,685.0 608.0,676.0" fill="none" stroke="#fff" stroke-width="0.8" stroke-linejoin="round" stroke-opacity="1"/><polyline points="759.8,394.1 784.4,390.6 798.5,401.1 805.6,415.2 819.6,425.7 833.7,436.3 840.7,446.9 833.7,453.9 826.7,460.9 830.2,471.5 833.7,478.5 847.8,468.0 861.9,464.4 875.9,468.0 886.5,478.5 897.0,485.6" fill="none" stroke="#fff" stroke-width="0.8" stroke-linejoin="round" stroke-opacity="1"/><polyline points="714.1,520.7 728.1,510.2 745.7,506.7 770.4,510.2 791.5,506.7 812.6,503.2 823.2,499.6 826.7,485.6 826.7,471.5" fill="none" stroke="#fff" stroke-width="0.8" stroke-linejoin="round" stroke-opacity="1"/><polyline points="745.0,400.0 752.0,395.0 759.8,394.1" fill="none" stroke="#fff" stroke-width="0.8" stroke-linejoin="round" stroke-opacity="1"/><polyline points="786.7,600.0 798.5,591.1 812.6,598.2 826.7,608.7 834.4,609.6 844.1,616.9 851.3,631.3 846.5,638.5 834.4,643.3 832.0,655.4 827.2,662.6" fill="none" stroke="#fff" stroke-width="0.8" stroke-linejoin="round" stroke-opacity="1"/><polyline points="673.3,730.0 672.2,736.7 670.0,743.3 664.4,747.8 662.2,752.2 658.9,758.9 657.8,766.7 656.7,774.4" fill="none" stroke="#fff" stroke-width="0.8" stroke-linejoin="round" stroke-opacity="1"/><polyline points="664.4,747.8 675.0,752.0 686.0,759.0 690.0,763.0 687.0,767.0 682.2,767.8 677.8,773.3 674.4,780.0 673.3,786.7" fill="none" stroke="#fff" stroke-width="0.8" stroke-linejoin="round" stroke-opacity="1"/><polyline points="687.0,767.0 692.0,776.0 699.0,782.0 702.0,785.0 701.0,793.0 701.0,800.0 704.0,809.0 707.0,812.0" fill="none" stroke="#fff" stroke-width="0.8" stroke-linejoin="round" stroke-opacity="1"/><polyline points="702.0,785.0 711.0,779.0 720.0,775.0 728.0,772.0" fill="none" stroke="#fff" stroke-width="0.8" stroke-linejoin="round" stroke-opacity="1"/><polyline points="690.0,763.0 698.0,759.0 707.0,752.0 714.0,756.0 718.0,762.0 718.0,772.0" fill="none" stroke="#fff" stroke-width="0.8" stroke-linejoin="round" stroke-opacity="1"/><polyline points="661.9,701.9 664.0,712.0 666.0,722.0 665.0,730.0 673.3,730.0" fill="none" stroke="#fff" stroke-width="0.8" stroke-linejoin="round" stroke-opacity="1"/></g>
</g>
<g id="labels">
<rect x="440.5" y="269.3" width="59.5" height="24.0" fill="#ae8e26"/>
<text x="470.2" y="287.7" text-anchor="middle" textLength="47.6" lengthAdjust="spacingAndGlyphs" class="lb">85 780</text>
<rect x="653.3" y="221.7" width="60.0" height="24.3" fill="#ae8e26"/>
<text x="683.3" y="240.2" text-anchor="middle" textLength="47.6" lengthAdjust="spacingAndGlyphs" class="lb">78 905</text>
<rect x="533.3" y="321.7" width="56.7" height="23.3" fill="#ae8e26"/>
<text x="561.6" y="339.8" text-anchor="middle" textLength="47.6" lengthAdjust="spacingAndGlyphs" class="lb">50 900</text>
<rect x="668.3" y="321.5" width="54.5" height="23.3" fill="#ae8e26"/>
<text x="695.5" y="339.5" text-anchor="middle" textLength="47.6" lengthAdjust="spacingAndGlyphs" class="lb">33 140</text>
<rect x="701.3" y="374.2" width="55.4" height="23.3" fill="#ae8e26"/>
<text x="729.0" y="392.2" text-anchor="middle" textLength="47.6" lengthAdjust="spacingAndGlyphs" class="lb">31 410</text>
<rect x="669.2" y="414.2" width="55.0" height="23.3" fill="#ae8e26"/>
<text x="696.7" y="432.2" text-anchor="middle" textLength="47.6" lengthAdjust="spacingAndGlyphs" class="lb">53 045</text>
<rect x="428.3" y="425.7" width="55.7" height="23.6" fill="#ae8e26"/>
<text x="456.1" y="443.9" text-anchor="middle" textLength="47.6" lengthAdjust="spacingAndGlyphs" class="lb">50 755</text>
<rect x="187.4" y="465.7" width="62.8" height="22.8" fill="#ae8e26"/>
<text x="218.8" y="483.5" text-anchor="middle" textLength="56.6" lengthAdjust="spacingAndGlyphs" class="lb">120 145</text>
<rect x="360.0" y="507.6" width="64.8" height="24.0" fill="#ae8e26"/>
<text x="392.4" y="526.0" text-anchor="middle" textLength="56.6" lengthAdjust="spacingAndGlyphs" class="lb">135 790</text>
<rect x="382.3" y="555.8" width="54.7" height="23.2" fill="#ae8e26"/>
<text x="409.6" y="573.8" text-anchor="middle" textLength="47.6" lengthAdjust="spacingAndGlyphs" class="lb">95 160</text>
<rect x="436.7" y="589.7" width="48.3" height="23.6" fill="#ae8e26"/>
<text x="460.9" y="607.9" text-anchor="middle" textLength="38.6" lengthAdjust="spacingAndGlyphs" class="lb">4 090</text>
<rect x="460.0" y="534.2" width="77.0" height="23.3" fill="#ae8e26"/>
<text x="498.5" y="552.2" text-anchor="middle" textLength="68.2" lengthAdjust="spacingAndGlyphs" class="lb">1 267 475</text>
<rect x="612.2" y="504.4" width="66.2" height="23.4" fill="#ae8e26"/>
<text x="645.3" y="522.5" text-anchor="middle" textLength="56.6" lengthAdjust="spacingAndGlyphs" class="lb">966 595</text>
<rect x="545.6" y="581.6" width="67.3" height="24.0" fill="#ae8e26"/>
<text x="579.2" y="600.0" text-anchor="middle" textLength="56.6" lengthAdjust="spacingAndGlyphs" class="lb">399 630</text>
<rect x="648.9" y="581.6" width="62.2" height="24.0" fill="#ae8e26"/>
<text x="680.0" y="600.0" text-anchor="middle" textLength="56.6" lengthAdjust="spacingAndGlyphs" class="lb">140 920</text>
<rect x="546.2" y="633.3" width="59.8" height="23.7" fill="#ae8e26"/>
<text x="576.1" y="651.5" text-anchor="middle" textLength="47.6" lengthAdjust="spacingAndGlyphs" class="lb">93 275</text>
<rect x="628.4" y="642.4" width="58.8" height="23.2" fill="#ae8e26"/>
<text x="657.8" y="660.4" text-anchor="middle" textLength="47.6" lengthAdjust="spacingAndGlyphs" class="lb">43 830</text>
<rect x="568.4" y="676.7" width="58.7" height="23.3" fill="#ae8e26"/>
<text x="597.8" y="694.8" text-anchor="middle" textLength="47.6" lengthAdjust="spacingAndGlyphs" class="lb">11 455</text>
<rect x="583.8" y="728.9" width="55.5" height="23.8" fill="#ae8e26"/>
<text x="611.5" y="747.2" text-anchor="middle" textLength="47.6" lengthAdjust="spacingAndGlyphs" class="lb">28 840</text>
<rect x="727.3" y="659.3" width="62.0" height="24.7" fill="#ae8e26"/>
<text x="758.3" y="678.0" text-anchor="middle" textLength="56.6" lengthAdjust="spacingAndGlyphs" class="lb">205 730</text>
<rect x="755.6" y="735.8" width="57.4" height="23.7" fill="#ae8e26"/>
<text x="784.3" y="754.0" text-anchor="middle" textLength="47.6" lengthAdjust="spacingAndGlyphs" class="lb">80 020</text>
<rect x="701.2" y="843.3" width="53.7" height="24.1" fill="#ae8e26"/>
<text x="728.0" y="861.7" text-anchor="middle" textLength="47.6" lengthAdjust="spacingAndGlyphs" class="lb">38 465</text>
<rect x="929.6" y="880.0" width="54.5" height="23.4" fill="#ae8e26"/>
<text x="956.9" y="898.1" text-anchor="middle" textLength="47.6" lengthAdjust="spacingAndGlyphs" class="lb">24 325</text>
<rect x="315.1" y="642.9" width="56.0" height="23.8" fill="#ae8e26"/>
<text x="343.1" y="661.2" text-anchor="middle" textLength="47.6" lengthAdjust="spacingAndGlyphs" class="lb">50 690</text>
<rect x="395.5" y="661.9" width="58.8" height="23.7" fill="#ae8e26"/>
<text x="424.9" y="680.1" text-anchor="middle" textLength="47.6" lengthAdjust="spacingAndGlyphs" class="lb">72 295</text>
<rect x="495.6" y="770.3" width="60.5" height="23.6" fill="#ae8e26"/>
<text x="525.9" y="788.5" text-anchor="middle" textLength="47.6" lengthAdjust="spacingAndGlyphs" class="lb">64 085</text>
<rect x="72.1" y="817.1" width="56.1" height="23.6" fill="#ae8e26"/>
<text x="100.1" y="835.3" text-anchor="middle" textLength="47.6" lengthAdjust="spacingAndGlyphs" class="lb">67 005</text>
<rect x="182.3" y="805.2" width="63.3" height="23.3" fill="#ae8e26"/>
<text x="213.9" y="823.2" text-anchor="middle" textLength="56.6" lengthAdjust="spacingAndGlyphs" class="lb">260 165</text>
</g>
<!-- Luxembourg marker -->
<circle cx="426.1" cy="593.3" r="3.3" fill="#ae8e26"/>
<line x1="429.5" y1="595.5" x2="437" y2="600.5" stroke="#6b7070" stroke-width="1"/>

<!-- Title -->
<g id="title">
<rect x="0" y="172.2" width="476.4" height="41.1" fill="#2743a7"/>
<rect x="0" y="217.3" width="250" height="40.5" fill="#2743a7"/>
<rect x="0" y="262.2" width="328.6" height="40" fill="#2743a7"/>
<rect x="0" y="306.2" width="399.4" height="40.9" fill="#2743a7"/>
<text class="tt" x="32" y="208.9" textLength="431.5" lengthAdjust="spacingAndGlyphs">Non-EU citizens who fled Ukraine</text>
<text class="tt" x="31" y="251.7" textLength="204.5" lengthAdjust="spacingAndGlyphs">and were under</text>
<text class="tt" x="31" y="294.3" textLength="280" lengthAdjust="spacingAndGlyphs">temporary protection</text>
<text class="tt" x="31.7" y="337.5" textLength="157.6" lengthAdjust="spacingAndGlyphs">at the end of</text>
<text class="tt" x="194.1" y="337.5" textLength="122.4" lengthAdjust="spacingAndGlyphs" style="fill:#dcaa32;stroke:#dcaa32;stroke-width:0.9px">February</text>
<text class="tt" x="324.2" y="337.5" textLength="60.3" lengthAdjust="spacingAndGlyphs">2026</text>
</g>

<!-- Legend -->
<g id="legend">
<text class="lg" x="30.7" y="390.2" font-weight="bold" style="font-size:22.5px" textLength="133.7" lengthAdjust="spacingAndGlyphs">Ratio per 1 000</text>
<text class="lg" x="30.7" y="419.1" font-weight="bold" style="font-size:22.5px" textLength="60.1" lengthAdjust="spacingAndGlyphs">people</text>
<circle cx="39.8" cy="451.1" r="13.2" fill="#2844a9"/>
<circle cx="39.8" cy="485.1" r="13.2" fill="#4868dc"/>
<circle cx="39.8" cy="519.4" r="13.2" fill="#6b8cfa"/>
<circle cx="39.8" cy="553.9" r="13.2" fill="#9aaffa"/>
<circle cx="39.8" cy="588.4" r="13.2" fill="#cdd9fb"/>
<circle cx="39.8" cy="622.9" r="13.2" fill="#a8a8a8"/>
<text class="lg" x="64.4" y="460.3" textLength="43.7" lengthAdjust="spacingAndGlyphs">≥20.0</text>
<text class="lg" x="64.4" y="494.1" textLength="84.5" lengthAdjust="spacingAndGlyphs">10.0 –&lt;20.0</text>
<text class="lg" x="64.4" y="528.3" textLength="76.3" lengthAdjust="spacingAndGlyphs">5.0 –&lt;10.0</text>
<text class="lg" x="64.4" y="562.8" textLength="68.9" lengthAdjust="spacingAndGlyphs">2.5 –&lt;5.0</text>
<text class="lg" x="64.4" y="597.3" textLength="33.3" lengthAdjust="spacingAndGlyphs">&lt;2.5</text>
<text class="lg" x="64.4" y="631.8" font-weight="bold" textLength="89.6" lengthAdjust="spacingAndGlyphs">Not available</text>
<text class="at" x="27.3" y="674" textLength="211.7" lengthAdjust="spacingAndGlyphs">Administrative boundaries: © EuroGeographics</text>
<text class="at" x="27.3" y="685.5" textLength="46" lengthAdjust="spacingAndGlyphs">© UN–FAO</text>
<text class="at" x="27.3" y="696.5" textLength="182" lengthAdjust="spacingAndGlyphs">Cartography: Eurostat – IMAGE,  04/2026</text>
</g>

<!-- Right panel -->
<g id="rpanel">
<text class="rp" x="875.8" y="175.8" textLength="105" lengthAdjust="spacingAndGlyphs">EU TOTAL:</text>
<rect x="875" y="185" width="144.2" height="41.7" fill="#ae8e26"/>
<text x="947.5" y="219.2" text-anchor="middle" font-weight="bold" font-size="33.8" fill="#fff" textLength="118.4" lengthAdjust="spacingAndGlyphs">4 398 400</text>
<text class="rp" x="875.8" y="275.8" textLength="128.4" lengthAdjust="spacingAndGlyphs">RATIO TO EU</text>
<text class="rp" x="875.8" y="308.3" textLength="135.9" lengthAdjust="spacingAndGlyphs">POPULATION</text>
<text class="rp" x="875.8" y="338.3" textLength="103.4" lengthAdjust="spacingAndGlyphs">PER 1 000</text>
<text class="rp" x="875.8" y="367.5" textLength="85" lengthAdjust="spacingAndGlyphs">PEOPLE:</text>
<rect x="874.2" y="380" width="54.1" height="41.3" fill="#ae8e26"/>
<text x="881.7" y="412.5" font-weight="bold" font-size="31.4" fill="#fff" textLength="37.5" lengthAdjust="spacingAndGlyphs">9.8</text>
</g>

<!-- Liechtenstein inset -->
<g id="li">
<rect x="873.9" y="487.6" width="121.5" height="135.5" fill="#6b8cfa"/>
<polygon points="955.8,487.6 995.4,487.6 995.4,613.3 987.8,610.6 979.4,605 965.6,607.8 957.2,605 965.6,596.7 964.2,585.6 962.8,570.3 957.2,563.3 947.5,559.2 950.3,546.7 943.3,535.6 944.7,527.2 937.8,516.1 943.3,507.8 951.7,500.8" fill="#4868dc" stroke="#fff" stroke-width="0.9"/>
<polygon points="937.8,516.1 944.7,527.2 943.3,535.6 950.3,546.7 947.5,559.2 957.2,563.3 962.8,570.3 964.2,585.6 965.6,596.7 957.2,605 946.1,607.8 937.8,603.6 923.9,606.4 919.7,603.6 929.4,596.7 932.2,588.3 929.4,574.4 925.3,563.3 923.9,552.2 926.7,538.3 932.2,525.8" fill="#2844a9" stroke="#fff" stroke-width="0.9"/>
<text x="881.5" y="510.6" font-weight="bold" font-size="17.4" fill="#fff" textLength="78.5" lengthAdjust="spacingAndGlyphs">Liechtenstein</text>
<rect x="882.9" y="519.6" width="34" height="23.6" fill="#ae8e26"/>
<text x="899.9" y="538" text-anchor="middle" class="lb" textLength="27" lengthAdjust="spacingAndGlyphs">900</text>
<path d="M881.5,596.5 v5 M881.5,599 H901.7 M901.7,596.5 v5" stroke="#1a2550" stroke-width="1.6" fill="none"/>
<text x="880" y="617.5" font-size="10" fill="#1a2550" font-weight="bold">0</text>
<text x="897.5" y="617.5" font-size="10" fill="#1a2550" font-weight="bold">5</text>
</g>

<!-- Malta inset -->
<g id="mt">
<rect x="873.9" y="637.5" width="122.9" height="135.4" fill="#f4f4f5"/>
<text x="882.9" y="660.4" font-weight="bold" font-size="17.4" fill="#22252e" textLength="33.4" lengthAdjust="spacingAndGlyphs">Malta</text>
<rect x="881.5" y="668" width="47.3" height="24.4" fill="#ae8e26"/>
<text x="905.2" y="686.6" text-anchor="middle" class="lb" textLength="38" lengthAdjust="spacingAndGlyphs">2 560</text>
<polygon points="896.1,694.4 905.8,693.1 918.3,695.8 924.6,700.7 921.1,704.9 912.8,706.3 901.7,704.9 896.8,701.4" fill="#9aaffa"/>
<polygon points="922.5,706.3 927,706.5 928,708.8 923.5,709" fill="#9aaffa"/>
<polygon points="923.9,715.3 932.2,711.1 933.6,713.9 939.2,719.4 946.1,720.8 954.4,723.6 960,725 965.6,730.6 971.1,734.7 974.6,738.9 973.2,745.8 969.7,751.4 965.6,753.5 957.2,752.1 946.1,748.6 935,744.4 928.1,738.9 926,733.3 928.1,726.4 925.3,720.8" fill="#9aaffa"/>
<path d="M882.2,745.5 v5 M882.2,748 H904.4 M904.4,745.5 v5" stroke="#222" stroke-width="1.6" fill="none"/>
<text x="880.5" y="767.4" font-size="10" fill="#222" font-weight="bold">0</text>
<text x="898.2" y="767.4" font-size="10" fill="#222" font-weight="bold">10</text>
</g>

<!-- Footnotes -->
<g id="fn">
<text class="fn" x="26.4" y="955.6" textLength="206.9" lengthAdjust="spacingAndGlyphs">French data do not generally include minors.</text>
<text class="fn" x="26.4" y="967.5" textLength="519.4" lengthAdjust="spacingAndGlyphs">Data on the number of persons under temporary protection at the end of the month in Spain, Cyprus and Greece</text>
<text class="fn" x="26.4" y="979.4" textLength="359.9" lengthAdjust="spacingAndGlyphs">include some persons whose temporary protection status was no longer valid.</text>
<text class="fn" x="26.4" y="991.1" textLength="226.9" lengthAdjust="spacingAndGlyphs">Iceland: data for February 2026 are not available.</text>
</g>

<!-- eurostat logo -->
<g id="logo">
<text x="79.7" y="1052.2" font-weight="bold" font-size="44" fill="#767676" textLength="160.6" lengthAdjust="spacingAndGlyphs">eurostat</text>
<rect x="246.7" y="1025" width="40" height="27.2" fill="#1f3f9f"/>
<g fill="#ffdd00" id="stars"><polygon points="266.70,1027.45 267.06,1028.50 268.17,1028.52 267.29,1029.19 267.61,1030.25 266.70,1029.62 265.79,1030.25 266.11,1029.19 265.23,1028.52 266.34,1028.50"/><polygon points="271.50,1028.74 271.86,1029.78 272.97,1029.81 272.09,1030.48 272.41,1031.54 271.50,1030.91 270.59,1031.54 270.91,1030.48 270.03,1029.81 271.14,1029.78"/><polygon points="275.01,1032.25 275.38,1033.30 276.49,1033.32 275.60,1033.99 275.92,1035.05 275.01,1034.42 274.10,1035.05 274.42,1033.99 273.54,1033.32 274.65,1033.30"/><polygon points="276.30,1037.05 276.66,1038.10 277.77,1038.12 276.89,1038.79 277.21,1039.85 276.30,1039.22 275.39,1039.85 275.71,1038.79 274.83,1038.12 275.94,1038.10"/><polygon points="275.01,1041.85 275.38,1042.90 276.49,1042.92 275.60,1043.59 275.92,1044.65 275.01,1044.02 274.10,1044.65 274.42,1043.59 273.54,1042.92 274.65,1042.90"/><polygon points="271.50,1045.36 271.86,1046.41 272.97,1046.43 272.09,1047.11 272.41,1048.17 271.50,1047.53 270.59,1048.17 270.91,1047.11 270.03,1046.43 271.14,1046.41"/><polygon points="266.70,1046.65 267.06,1047.70 268.17,1047.72 267.29,1048.39 267.61,1049.45 266.70,1048.82 265.79,1049.45 266.11,1048.39 265.23,1047.72 266.34,1047.70"/><polygon points="261.90,1045.36 262.26,1046.41 263.37,1046.43 262.49,1047.11 262.81,1048.17 261.90,1047.53 260.99,1048.17 261.31,1047.11 260.43,1046.43 261.54,1046.41"/><polygon points="258.39,1041.85 258.75,1042.90 259.86,1042.92 258.98,1043.59 259.30,1044.65 258.39,1044.02 257.48,1044.65 257.80,1043.59 256.91,1042.92 258.02,1042.90"/><polygon points="257.10,1037.05 257.46,1038.10 258.57,1038.12 257.69,1038.79 258.01,1039.85 257.10,1039.22 256.19,1039.85 256.51,1038.79 255.63,1038.12 256.74,1038.10"/><polygon points="258.39,1032.25 258.75,1033.30 259.86,1033.32 258.98,1033.99 259.30,1035.05 258.39,1034.42 257.48,1035.05 257.80,1033.99 256.91,1033.32 258.02,1033.30"/><polygon points="261.90,1028.74 262.26,1029.78 263.37,1029.81 262.49,1030.48 262.81,1031.54 261.90,1030.91 260.99,1031.54 261.31,1030.48 260.43,1029.81 261.54,1029.78"/></g>
</g>

<!-- swoosh -->
<g id="swoosh">
<polygon points="880.5,958.7 927.3,958.7 904.9,985.9 824.5,1080 781.5,1080" fill="url(#gY)"/>
<polygon points="927.3,958.7 904.9,985.9 933.6,1018.9 978.1,1018.9" fill="url(#gG)"/>
<polygon points="1034.2,898.1 1080,898.1 978.6,1018.9 956.4,991.1" fill="url(#gB)"/>
</g>
</svg>
</body>
</html>
